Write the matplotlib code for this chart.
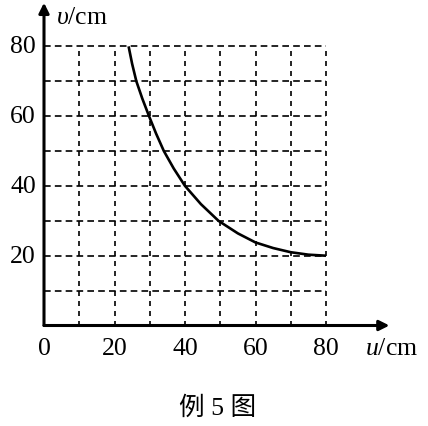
import matplotlib
matplotlib.use('Agg')
import matplotlib.pyplot as plt

# values
u_curve = [24.0, 25.0, 26.2, 27.9, 29.8, 31.8, 34.0, 36.8, 40, 44.5, 49.5, 55, 60, 65, 70, 75, 80]
v_curve = [80, 75, 70, 65, 60, 55, 50, 45, 40, 34.8, 30, 26.4, 23.8, 22.2, 21, 20.3, 20]
grid_u = [10, 20, 30, 40, 50, 60, 70, 80]
grid_v = [10, 20, 30, 40, 50, 60, 70, 80]
xticks = [0, 20, 40, 60, 80]
yticks = [20, 40, 60, 80]

plt.rcParams['font.family'] = ['Liberation Serif', 'Noto Sans CJK SC']
plt.rcParams['mathtext.fontset'] = 'custom'
plt.rcParams['mathtext.it'] = 'Liberation Serif:italic'
plt.rcParams['mathtext.rm'] = 'Liberation Serif'

fig = plt.figure(figsize=(4.28, 4.27), dpi=100)
W, H = 428, 427
ax = fig.add_axes([44 / W, (H - 326.5) / H, 352.5 / W, 321 / H])
ax.set_xlim(0, 100)
ax.set_ylim(0, 92)
ax.axis('off')

dash = (0, (4, 2.5))
for gv in grid_v:
    ax.plot([0, 80], [gv, gv], color='black', lw=1.2, linestyle=dash)
for gu in grid_u:
    ax.plot([gu, gu], [0, 80], color='black', lw=1.2, linestyle=(0, (3, 3)))

ax.plot(u_curve, v_curve, color='black', lw=1.9, solid_capstyle='butt',
        solid_joinstyle='round')

# axes with arrows
ax.annotate('', xy=(98, 0), xytext=(0, 0), annotation_clip=False,
            arrowprops=dict(arrowstyle='-|>', color='black', lw=2.2,
                            mutation_scale=15, shrinkA=0, shrinkB=0))
ax.annotate('', xy=(0, 92.5), xytext=(0, 0), annotation_clip=False,
            arrowprops=dict(arrowstyle='-|>', color='black', lw=2.2,
                            mutation_scale=15, shrinkA=0, shrinkB=0))

for t in xticks:
    ax.text(t, -6.5, str(t), ha='center', va='center', fontsize=18.5)
for t in yticks:
    ax.text(-2.3, t, str(t), ha='right', va='center', fontsize=18.5)

ax.text(91.2, -6.5, r'$u$/cm', ha='left', va='center', fontsize=18.5)
ax.text(3.5, 88.5, r'$\upsilon$/cm', ha='left', va='center', fontsize=18.5)

fig.text(218 / W, 1 - 408 / H, '例 5 图', ha='center', va='center', fontsize=18.5)

fig.savefig('out.png', dpi=100, facecolor='white')
